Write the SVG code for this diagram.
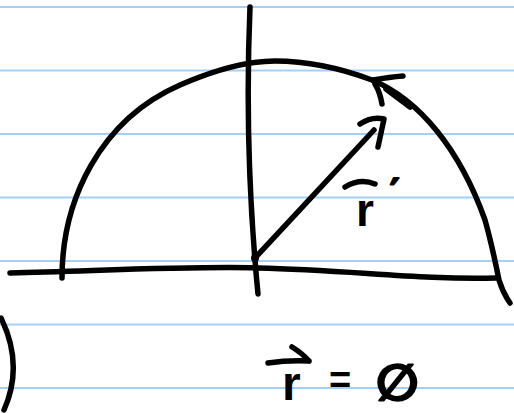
<svg xmlns="http://www.w3.org/2000/svg" width="514" height="413" viewBox="0 0 514 413">
<style>
.rule{stroke:#a6cff5;stroke-width:2}
.ink{fill:none;stroke:#000;stroke-width:5.5;stroke-linecap:round;stroke-linejoin:round}
.hand{font-family:"Liberation Sans","DejaVu Sans",sans-serif;font-weight:bold;fill:#000}
.heavy{stroke:#000;stroke-width:2;stroke-linejoin:round}
</style>
<rect width="514" height="413" fill="#fff"/>
<g id="paper">
<line class="rule" x1="0" y1="7" x2="514" y2="7"/>
<line class="rule" x1="0" y1="70.5" x2="514" y2="70.5"/>
<line class="rule" x1="0" y1="134" x2="514" y2="134"/>
<line class="rule" x1="0" y1="197.5" x2="514" y2="197.5"/>
<line class="rule" x1="0" y1="261" x2="514" y2="261"/>
<line class="rule" x1="0" y1="324.5" x2="514" y2="324.5"/>
<line class="rule" x1="0" y1="388" x2="514" y2="388"/>
</g>
<g id="axes">
<path class="ink" d="M250,7 Q244,150 258,294"/>
<path class="ink" d="M10,273 C120,270 200,266 258,268 C350,270 420,280 496,278"/>
</g>
<g id="arc">
<path class="ink" d="M62,278 C62,200 100,120 180,85 C210,72 245,61 275,61 C305,61 340,68 372,80 C420,100 460,150 485,220 C492,245 496,265 499,280 Q503,293 510,303"/>
<path class="ink" d="M373,80 Q390,77 403,76"/>
<path class="ink" d="M375,84 Q380,92 382,104"/>
<path class="ink" stroke-width="8" d="M386,89 L410,107"/>
</g>
<g id="connectors">
<path class="ink" d="M255,258 L374,130"/>
<path class="ink" d="M360,124 Q372,116 384,119 Q381,133 378,147"/>
<circle cx="255" cy="258" r="4" fill="#000"/>
</g>
<g id="label-rprime">
<path class="ink" d="M345,187 Q360,178 375,184"/>
<text class="hand" x="356" y="226" font-size="46">r</text>
<text class="hand heavy" x="390" y="204" font-size="36" style="font-family:'DejaVu Sans',sans-serif">′</text>
</g>
<g id="equation">
<path class="ink" d="M268,363 Q288,360 309,361 M292,347 Q302,353 309,361"/>
<text class="hand" x="282" y="400" font-size="48">r</text>
<text class="hand" x="329" y="393" font-size="38">=</text>
<text class="hand heavy" x="376" y="400" font-size="50" style="font-family:'DejaVu Sans',sans-serif">∅</text>
</g>
<g id="left-curve">
<path class="ink" d="M1,318 Q24,365 4,410"/>
</g>
</svg>
